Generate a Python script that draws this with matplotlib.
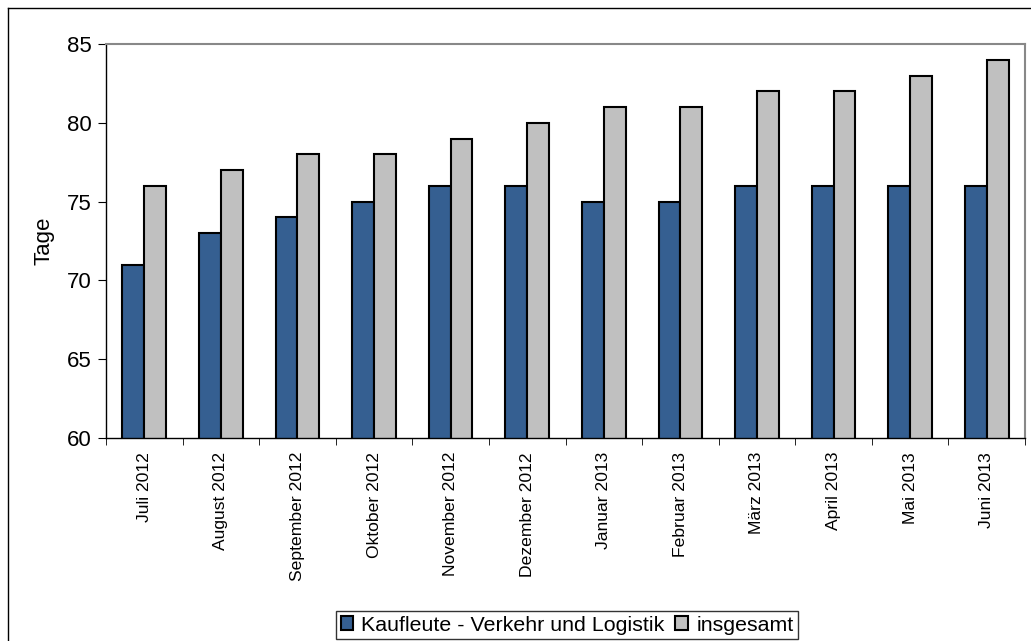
import matplotlib
matplotlib.use("Agg")
import matplotlib.pyplot as plt
import numpy as np
from matplotlib.lines import Line2D

plt.rcParams["font.family"] = ["Liberation Sans", "DejaVu Sans"]

months = ["Juli 2012", "August 2012", "September 2012", "Oktober 2012",
          "November 2012", "Dezember 2012", "Januar 2013", "Februar 2013",
          "März 2013", "April 2013", "Mai 2013", "Juni 2013"]
kaufleute = [71, 73, 74, 75, 76, 76, 75, 75, 76, 76, 76, 76]
insgesamt = [76, 77, 78, 78, 79, 80, 81, 81, 82, 82, 83, 84]

BLUE = "#355F91"
GREY = "#C0C0C0"

fig = plt.figure(figsize=(10.31, 6.41), dpi=100)
ax = fig.add_axes([106 / 1031, 1 - 438 / 641, (1025 - 106) / 1031, (438 - 44) / 641])

x = np.arange(len(months))
w = 0.285
ax.bar(x - w / 2, kaufleute, w, color=BLUE, edgecolor="black",
       linewidth=1.5, label="Kaufleute - Verkehr und Logistik")
ax.bar(x + w / 2, insgesamt, w, color=GREY, edgecolor="black",
       linewidth=1.5, label="insgesamt")

ax.set_xlim(-0.5, len(months) - 0.5)
ax.set_ylim(60, 85)
ax.set_yticks(range(60, 86, 5))
ax.tick_params(axis="y", labelsize=16, length=6, pad=4, direction="out")

# category labels between the boundary ticks
ax.set_xticks(x)
ax.set_xticklabels(months, rotation=90, fontsize=12.6)
ax.tick_params(axis="x", which="major", length=0, pad=10)
ax.set_xticks(np.arange(-0.5, len(months)), minor=True)
ax.tick_params(axis="x", which="minor", length=5, direction="out")

ax.set_ylabel("Tage", fontsize=16, labelpad=9)

for side in ("left", "bottom"):
    ax.spines[side].set_color("black")
    ax.spines[side].set_linewidth(1.0)
for side in ("top", "right"):
    ax.spines[side].set_color("#888888")
    ax.spines[side].set_linewidth(1.5)

leg = ax.legend(loc="lower center", bbox_to_anchor=(567 / 1031, 2 / 641),
                bbox_transform=fig.transFigure, ncol=2, fontsize=15.4,
                frameon=True, fancybox=False, handlelength=0.6, handleheight=0.6,
                handletextpad=0.37, columnspacing=0.5, borderpad=0.2,
                borderaxespad=0)
leg.get_frame().set_edgecolor("black")
leg.get_frame().set_linewidth(1.0)

# outer chart border (left and top edges)
fig.add_artist(Line2D([8 / 1031, 8 / 1031], [0, 1 - 8 / 641], color="black",
                      linewidth=1.0, transform=fig.transFigure))
fig.add_artist(Line2D([8 / 1031, 1], [1 - 8 / 641, 1 - 8 / 641], color="black",
                      linewidth=1.0, transform=fig.transFigure))

fig.savefig("out.png", dpi=100)
